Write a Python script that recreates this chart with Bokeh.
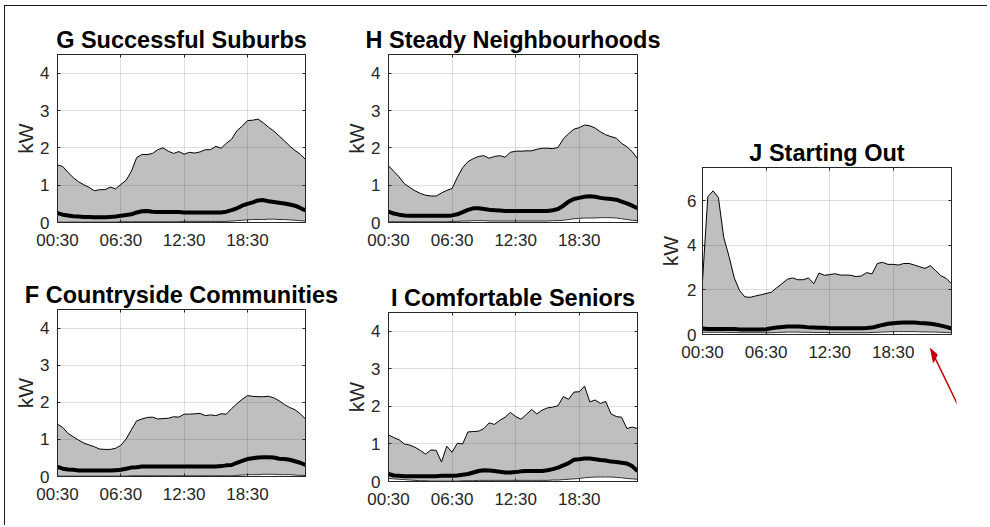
import numpy as np
from bokeh.plotting import figure
from bokeh.layouts import row, column
from bokeh.models import Range1d, FixedTicker, LinearAxis, ColumnDataSource
from bokeh.embed import file_html
from bokeh.resources import INLINE

# ---------------- data ----------------
SLOTS = list(range(1, 49))          # half-hour slots, 1 = 00:30 ... 48 = 24:00
TICK_SLOTS = [1, 13, 25, 37]
TICK_LABELS = ["00:30", "06:30", "12:30", "18:30"]

G_hi = [1.54, 1.50, 1.34, 1.20, 1.09, 1.01, 0.94, 0.85, 0.88, 0.88, 0.95, 0.90, 1.02, 1.13, 1.37, 1.74,
        1.82, 1.82, 1.85, 1.95, 2.00, 1.91, 1.85, 1.90, 1.83, 1.88, 1.86, 1.89, 1.95, 1.95, 2.04, 1.99,
        2.12, 2.23, 2.46, 2.58, 2.73, 2.74, 2.77, 2.67, 2.55, 2.45, 2.32, 2.19, 2.05, 1.93, 1.83, 1.69]
G_med = [0.25, 0.21, 0.19, 0.17, 0.16, 0.15, 0.15, 0.14, 0.14, 0.14, 0.15, 0.16, 0.18, 0.20, 0.22, 0.27,
         0.30, 0.31, 0.29, 0.28, 0.28, 0.28, 0.28, 0.28, 0.27, 0.27, 0.27, 0.27, 0.27, 0.27, 0.27, 0.27,
         0.29, 0.33, 0.38, 0.45, 0.50, 0.54, 0.59, 0.60, 0.57, 0.55, 0.53, 0.51, 0.48, 0.45, 0.39, 0.32]
G_lo = [0.01, 0.01, 0.01, 0.01, 0.01, 0.01, 0.01, 0.01, 0.01, 0.01, 0.01, 0.01, 0.02, 0.02, 0.02, 0.02,
        0.02, 0.02, 0.02, 0.02, 0.02, 0.02, 0.02, 0.02, 0.03, 0.03, 0.03, 0.03, 0.03, 0.03, 0.03, 0.03,
        0.03, 0.04, 0.05, 0.06, 0.07, 0.08, 0.08, 0.08, 0.09, 0.09, 0.08, 0.08, 0.07, 0.06, 0.05, 0.04]

H_hi = [1.52, 1.37, 1.22, 1.04, 0.94, 0.85, 0.78, 0.73, 0.71, 0.71, 0.79, 0.86, 0.91, 1.21, 1.47, 1.63,
        1.71, 1.77, 1.79, 1.72, 1.77, 1.79, 1.75, 1.88, 1.91, 1.91, 1.92, 1.92, 1.96, 1.99, 1.99, 1.98,
        2.01, 2.24, 2.38, 2.50, 2.54, 2.61, 2.59, 2.53, 2.43, 2.35, 2.30, 2.26, 2.12, 2.03, 1.90, 1.71]
H_med = [0.29, 0.24, 0.21, 0.19, 0.18, 0.18, 0.18, 0.18, 0.18, 0.18, 0.18, 0.18, 0.19, 0.22, 0.28, 0.34,
         0.38, 0.38, 0.36, 0.34, 0.33, 0.32, 0.31, 0.31, 0.31, 0.31, 0.31, 0.31, 0.31, 0.31, 0.31, 0.33,
         0.36, 0.45, 0.56, 0.63, 0.66, 0.69, 0.70, 0.69, 0.66, 0.64, 0.63, 0.61, 0.56, 0.51, 0.45, 0.38]
H_lo = [0.02, 0.02, 0.02, 0.02, 0.02, 0.02, 0.02, 0.02, 0.02, 0.02, 0.02, 0.02, 0.03, 0.03, 0.04, 0.04,
        0.05, 0.05, 0.05, 0.04, 0.04, 0.04, 0.04, 0.04, 0.04, 0.04, 0.04, 0.04, 0.04, 0.04, 0.04, 0.05,
        0.05, 0.06, 0.08, 0.10, 0.11, 0.12, 0.12, 0.12, 0.13, 0.13, 0.13, 0.12, 0.10, 0.08, 0.06, 0.05]

J_hi = [2.40, 6.19, 6.45, 6.15, 4.37, 3.51, 2.54, 1.97, 1.69, 1.67, 1.73, 1.78, 1.84, 1.90, 2.10, 2.28,
        2.48, 2.54, 2.46, 2.46, 2.54, 2.28, 2.76, 2.66, 2.69, 2.73, 2.67, 2.67, 2.66, 2.60, 2.63, 2.78,
        2.72, 3.19, 3.24, 3.15, 3.15, 3.12, 3.19, 3.19, 3.12, 3.04, 2.97, 3.09, 2.87, 2.64, 2.52, 2.28]
J_med = [0.27, 0.25, 0.25, 0.25, 0.25, 0.25, 0.25, 0.23, 0.22, 0.22, 0.22, 0.22, 0.24, 0.28, 0.31, 0.34,
         0.36, 0.36, 0.36, 0.35, 0.32, 0.31, 0.30, 0.30, 0.28, 0.28, 0.28, 0.28, 0.28, 0.28, 0.28, 0.29,
         0.31, 0.37, 0.43, 0.48, 0.51, 0.53, 0.54, 0.54, 0.54, 0.52, 0.51, 0.48, 0.45, 0.40, 0.34, 0.27]
J_lo = [0.10, 0.10, 0.10, 0.10, 0.10, 0.09, 0.09, 0.08, 0.08, 0.08, 0.08, 0.08, 0.08, 0.08, 0.09, 0.10,
        0.11, 0.11, 0.11, 0.10, 0.10, 0.09, 0.09, 0.09, 0.08, 0.08, 0.08, 0.08, 0.08, 0.08, 0.08, 0.08,
        0.09, 0.10, 0.11, 0.12, 0.13, 0.13, 0.13, 0.13, 0.13, 0.12, 0.12, 0.11, 0.11, 0.10, 0.09, 0.08]

F_hi = [1.41, 1.32, 1.16, 1.07, 0.98, 0.90, 0.85, 0.80, 0.74, 0.73, 0.73, 0.76, 0.84, 1.01, 1.26, 1.50,
        1.55, 1.59, 1.60, 1.55, 1.56, 1.57, 1.61, 1.60, 1.68, 1.68, 1.69, 1.70, 1.64, 1.66, 1.64, 1.69,
        1.68, 1.83, 1.96, 2.08, 2.18, 2.16, 2.15, 2.15, 2.16, 2.12, 2.04, 1.94, 1.86, 1.80, 1.69, 1.55]
F_med = [0.26, 0.21, 0.19, 0.18, 0.16, 0.16, 0.16, 0.16, 0.16, 0.16, 0.16, 0.17, 0.18, 0.21, 0.24, 0.25,
         0.27, 0.27, 0.27, 0.27, 0.27, 0.27, 0.27, 0.27, 0.27, 0.27, 0.27, 0.27, 0.27, 0.27, 0.27, 0.28,
         0.30, 0.31, 0.37, 0.42, 0.47, 0.49, 0.51, 0.52, 0.52, 0.51, 0.48, 0.47, 0.45, 0.41, 0.37, 0.31]
F_lo = [0.01, 0.01, 0.01, 0.01, 0.01, 0.01, 0.01, 0.01, 0.01, 0.01, 0.01, 0.01, 0.01, 0.01, 0.02, 0.02,
        0.02, 0.02, 0.02, 0.02, 0.02, 0.02, 0.02, 0.02, 0.02, 0.02, 0.02, 0.02, 0.02, 0.02, 0.02, 0.02,
        0.02, 0.02, 0.03, 0.04, 0.05, 0.05, 0.05, 0.06, 0.06, 0.06, 0.05, 0.05, 0.05, 0.04, 0.03, 0.03]

I_hi = [1.24, 1.17, 1.11, 1.00, 0.97, 0.91, 0.83, 0.73, 0.84, 0.83, 0.52, 0.94, 0.78, 1.02, 1.00, 1.32,
        1.33, 1.34, 1.41, 1.56, 1.52, 1.63, 1.71, 1.84, 1.73, 1.66, 1.78, 1.92, 1.80, 1.90, 1.96, 1.98,
        2.02, 2.26, 2.19, 2.38, 2.39, 2.54, 2.12, 2.17, 2.08, 2.13, 1.80, 1.73, 1.71, 1.41, 1.45, 1.41]
I_med = [0.20, 0.16, 0.15, 0.14, 0.14, 0.14, 0.14, 0.14, 0.14, 0.14, 0.15, 0.15, 0.15, 0.16, 0.18, 0.20,
         0.24, 0.28, 0.30, 0.29, 0.28, 0.26, 0.24, 0.24, 0.25, 0.27, 0.28, 0.28, 0.28, 0.28, 0.30, 0.33,
         0.37, 0.43, 0.49, 0.58, 0.59, 0.61, 0.61, 0.59, 0.57, 0.56, 0.53, 0.52, 0.50, 0.48, 0.41, 0.28]
I_lo = [0.08, 0.07, 0.06, 0.05, 0.04, 0.03, 0.02, 0.02, 0.01, 0.01, 0.01, 0.01, 0.01, 0.01, 0.02, 0.02,
        0.02, 0.03, 0.03, 0.03, 0.03, 0.03, 0.03, 0.03, 0.03, 0.03, 0.03, 0.03, 0.03, 0.03, 0.03, 0.04,
        0.04, 0.05, 0.06, 0.07, 0.08, 0.10, 0.11, 0.12, 0.12, 0.12, 0.12, 0.11, 0.10, 0.08, 0.07, 0.06]

# red pointer arrow, in the pixel-like units (y up) of its own small overlay panel
ARROW_TAIL = (66.0, 4.0)
ARROW_HEAD = (10.0, 62.0)
ARROW_HEAD_LEN = 14.0
ARROW_HEAD_HALF = 5.5

# ---------------- style ----------------
FONT = "Liberation Sans"
AX = "#262626"
FILL = "#bfbfbf"
RED = "#c00000"


def make_panel(title, hi, med, lo, ymax, yticks, fw, fh, left, right, top, bottom,
               ytick_standoff=8, ylabel_standoff=0, margin=None):
    kw = dict(width=left + fw + right, height=top + fh + bottom,
              x_range=Range1d(1, 48), y_range=Range1d(0, ymax),
              output_backend="svg", toolbar_location=None,
              min_border_left=left, min_border_right=right,
              min_border_top=top, min_border_bottom=bottom)
    if margin is not None:
        kw["margin"] = margin
    p = figure(**kw)
    p.background_fill_color = "white"
    p.border_fill_color = None
    p.outline_line_color = AX
    p.outline_line_width = 1

    p.title.text = title
    p.title.align = "center"
    p.title.text_font = FONT
    p.title.text_font_size = "23.5px"
    p.title.text_font_style = "bold"
    p.title.text_color = "black"
    p.title.standoff = 4

    xax = p.below[0]
    yax = p.left[0]
    xax.ticker = FixedTicker(ticks=TICK_SLOTS)
    xax.major_label_overrides = dict(zip(TICK_SLOTS, TICK_LABELS))
    xax.major_label_standoff = 8
    yax.ticker = FixedTicker(ticks=yticks)
    yax.major_label_standoff = ytick_standoff
    yax.axis_label = "kW"
    yax.axis_label_standoff = ylabel_standoff
    yax.axis_label_text_font = FONT
    yax.axis_label_text_font_size = "21px"
    yax.axis_label_text_font_style = "normal"
    yax.axis_label_text_color = AX
    for ax in (xax, yax):
        ax.major_label_text_font = FONT
        ax.major_label_text_font_size = "17px"
        ax.major_label_text_color = AX

    top_ax = LinearAxis(ticker=FixedTicker(ticks=TICK_SLOTS), major_label_text_font_size="1px",
                        major_label_text_color=None, major_label_standoff=0)
    right_ax = LinearAxis(ticker=FixedTicker(ticks=yticks), major_label_text_font_size="1px",
                          major_label_text_color=None, major_label_standoff=0)
    p.add_layout(top_ax, "above")
    p.add_layout(right_ax, "right")

    for ax in (xax, yax, top_ax, right_ax):
        ax.major_tick_in = 3
        ax.major_tick_out = 0
        ax.minor_tick_in = 0
        ax.minor_tick_out = 0
        ax.axis_line_color = AX
        ax.major_tick_line_color = AX

    p.grid.grid_line_color = AX
    p.grid.grid_line_alpha = 0.15
    p.grid.grid_line_width = 1
    p.grid.level = "guide"

    src = ColumnDataSource(dict(x=SLOTS, hi=hi, med=med, lo=lo))
    p.varea(x="x", y1="lo", y2="hi", source=src, fill_color=FILL)
    p.line("x", "hi", source=src, line_color="black", line_width=1)
    p.line("x", "lo", source=src, line_color="#333333", line_width=1)
    p.line("x", "med", source=src, line_color="black", line_width=4, line_join="round")
    return p


pG = make_panel("G Successful Suburbs", G_hi, G_med, G_lo, 4.5, [0, 1, 2, 3, 4],
                251, 168, 52, 30, 48, 42)
pF = make_panel("F Countryside Communities", F_hi, F_med, F_lo, 4.5, [0, 1, 2, 3, 4],
                251, 167, 49, 33, 45, 49)
pH = make_panel("H Steady Neighbourhoods", H_hi, H_med, H_lo, 4.5, [0, 1, 2, 3, 4],
                252, 168, 50, 24, 48, 42)
pI = make_panel("I Comfortable Seniors", I_hi, I_med, I_lo, 4.5, [0, 1, 2, 3, 4],
                253, 169, 46, 27, 48, 44)
pJ = make_panel("J Starting Out", J_hi, J_med, J_lo, 7.5, [0, 2, 4, 6],
                252, 167, 47, 31, 41, 40, ytick_standoff=6, ylabel_standoff=2,
                margin=(120, 0, 0, 0))

# transparent overlay panel holding the red pointer arrow (sits just below panel J)
AW, AH, A_LEFT = 62, 70, 50
pA = figure(width=A_LEFT + AW, height=AH, x_range=Range1d(0, AW), y_range=Range1d(0, AH),
            x_axis_type=None, y_axis_type=None, title=None,
            output_backend="svg", toolbar_location=None,
            min_border_left=A_LEFT, min_border_right=0, min_border_top=0, min_border_bottom=0,
            margin=(-34, 0, 0, 223))
pA.grid.visible = False
pA.outline_line_color = None
pA.background_fill_color = None
pA.border_fill_color = None

tail = np.array(ARROW_TAIL)
head = np.array(ARROW_HEAD)
u = (head - tail) / np.linalg.norm(head - tail)
nrm = np.array([-u[1], u[0]])
base = head - ARROW_HEAD_LEN * u
pA.segment(x0=[tail[0]], y0=[tail[1]], x1=[base[0] + 2 * u[0]], y1=[base[1] + 2 * u[1]],
           line_color=RED, line_width=1.5)
pA.patch(x=[head[0], base[0] + ARROW_HEAD_HALF * nrm[0], base[0] - ARROW_HEAD_HALF * nrm[0]],
         y=[head[1], base[1] + ARROW_HEAD_HALF * nrm[1], base[1] - ARROW_HEAD_HALF * nrm[1]],
         fill_color=RED, line_color=RED, line_width=1)

layout = row(column(pG, pF), column(pH, pI), column(pJ, pA, margin=(0, 0, 0, -12)),
             margin=(5, 0, 0, 4),
             styles={"border-top": "1px solid #1a1a1a", "border-left": "1px solid #1a1a1a"})

open("out.html", "w").write(file_html(layout, INLINE))
